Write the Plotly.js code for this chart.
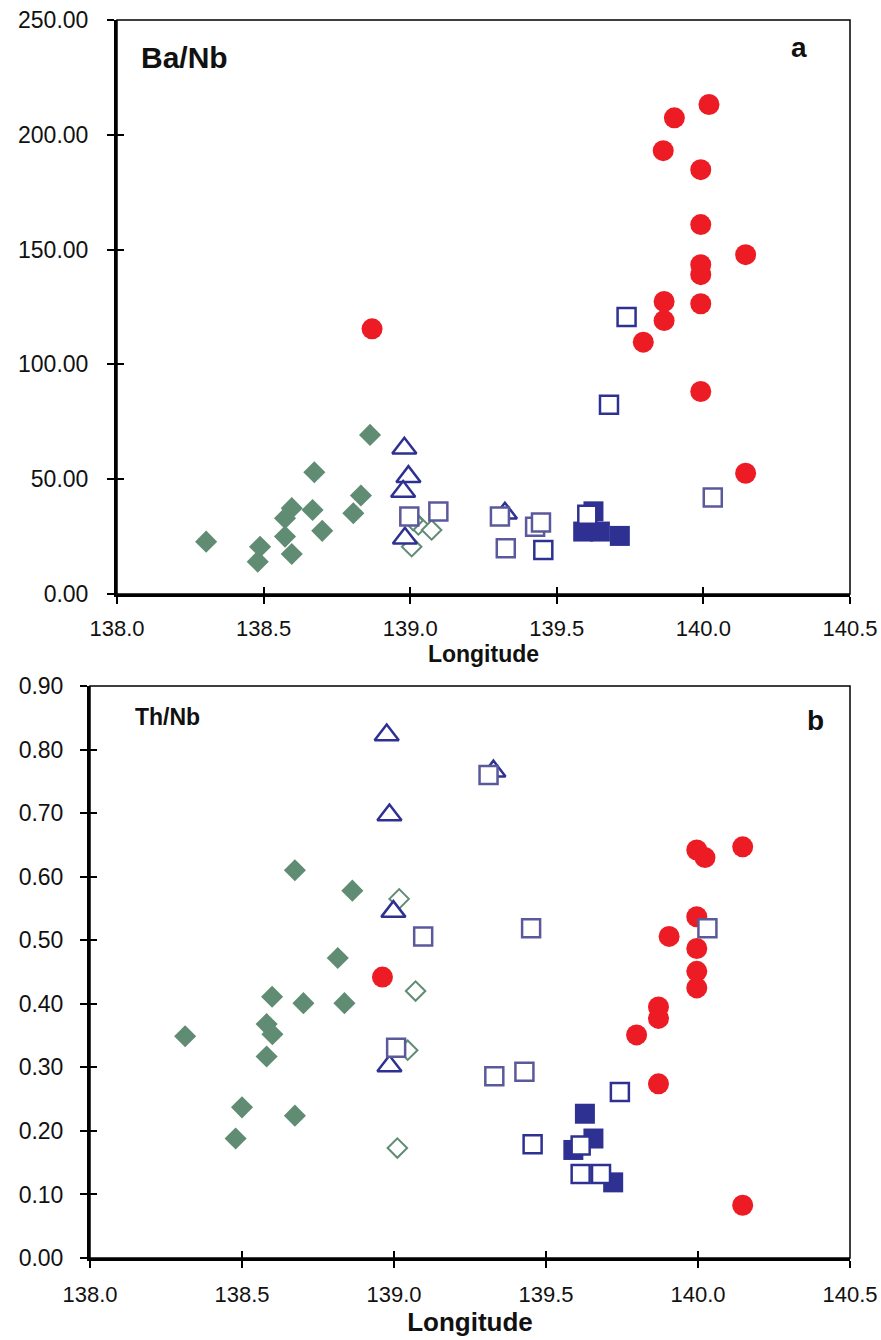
<!DOCTYPE html>
<html>
<head>
<meta charset="utf-8">
<script src="https://cdn.plot.ly/plotly-3.0.1.min.js"></script>
<style>
  html, body { margin: 0; padding: 0; background: #fff; }
  #chart { width: 881px; height: 1340px; }
</style>
</head>
<body>
<div id="chart"></div>
<script>
// ---- Panel a: Ba/Nb versus longitude ----
const redLonA = [140.019, 139.901, 139.863, 139.991, 139.991, 140.144, 139.991, 139.991, 139.866, 139.866, 139.991, 139.795, 139.991, 140.144, 138.870];
const redBaNb = [213.2, 207.4, 193.1, 184.8, 160.9, 147.8, 143.4, 139.1, 127.4, 119.1, 126.4, 109.7, 88.2, 52.6, 115.5];

const greenLonA = [138.863, 138.673, 138.304, 138.832, 138.806, 138.596, 138.667, 138.573, 138.573, 138.700, 138.488, 138.480, 138.596];
const greenBaNb = [69.3, 53.0, 22.8, 42.9, 35.2, 37.4, 36.6, 33.0, 25.0, 27.5, 20.6, 14.1, 17.4];

const openGreenLonA = [139.005, 139.028, 139.073, 139.010];
const openGreenBaNb = [20.6, 30.1, 27.9, 32.0];

const triLonA = [138.980, 138.994, 138.976, 138.982, 139.323];
const triBaNb = [63.5, 51.1, 44.6, 24.3, 35.2];

const purpleSqLonA = [138.997, 139.096, 139.306, 139.426, 139.446, 139.326, 140.032];
const purpleSqBaNb = [33.7, 35.9, 33.7, 29.3, 31.1, 19.9, 42.0];

const navySqLonA = [139.454, 139.604, 139.678, 139.738];
const navySqBaNb = [19.2, 34.5, 82.4, 120.6];

const navyFillLonA = [139.625, 139.590, 139.647, 139.715];
const navyFillBaNb = [36.0, 27.2, 27.2, 25.3];

// ---- Panel b: Th/Nb versus longitude ----
const redLonB = [138.962, 139.996, 140.023, 140.147, 139.996, 139.905, 139.996, 139.996, 139.996, 139.870, 139.870, 139.798, 139.870, 140.147];
const redThNb = [0.442, 0.642, 0.630, 0.647, 0.537, 0.506, 0.487, 0.451, 0.425, 0.395, 0.377, 0.351, 0.274, 0.083];

const greenLonB = [138.674, 138.863, 138.815, 138.599, 138.702, 138.837, 138.313, 138.581, 138.600, 138.581, 138.500, 138.674, 138.479];
const greenThNb = [0.610, 0.578, 0.472, 0.411, 0.401, 0.401, 0.349, 0.368, 0.352, 0.317, 0.237, 0.224, 0.188];

const openGreenLonB = [139.017, 139.071, 139.045, 139.011];
const openGreenThNb = [0.565, 0.420, 0.327, 0.173];

const triLonB = [138.976, 138.985, 138.998, 138.985, 139.327];
const triThNb = [0.823, 0.697, 0.545, 0.302, 0.766];

const purpleSqLonB = [139.311, 139.096, 139.007, 139.451, 140.031, 139.330, 139.429];
const purpleSqThNb = [0.760, 0.506, 0.331, 0.519, 0.519, 0.286, 0.293];

const navySqLonB = [139.743, 139.456, 139.614, 139.614, 139.681];
const navySqThNb = [0.261, 0.179, 0.177, 0.132, 0.132];

const navyFillLonB = [139.628, 139.656, 139.590, 139.721];
const navyFillThNb = [0.227, 0.188, 0.170, 0.119];

// Axis ticks
const lonTicks = [138.0, 138.5, 139.0, 139.5, 140.0, 140.5];
const baTicks = [0, 50, 100, 150, 200, 250];
const thTicks = [0, 0.1, 0.2, 0.3, 0.4, 0.5, 0.6, 0.7, 0.8, 0.9];

const RED = '#ED1C24', GREEN = '#5F8C73', NAVY = '#2E3192', PURPLE = '#5A599B';

function series(x, y, xa, ya, symbol, size, fill, line, lw) {
  return {
    type: 'scatter', mode: 'markers', x: x, y: y, xaxis: xa, yaxis: ya,
    hoverinfo: 'skip', showlegend: false,
    marker: { symbol: symbol, size: size, color: fill, line: { color: line, width: lw } }
  };
}

function panel(xa, ya, d) {
  return [
    series(d.gx, d.gy, xa, ya, 'diamond', 17, GREEN, GREEN, 0),
    series(d.ogx, d.ogy, xa, ya, 'diamond', 15, '#fff', GREEN, 2),
    series(d.rx, d.ry, xa, ya, 'circle', 21, RED, RED, 0),
    series(d.tx, d.ty, xa, ya, 'triangle-up', 21, '#fff', NAVY, 2.5),
    series(d.nfx, d.nfy, xa, ya, 'square', 20, NAVY, NAVY, 0),
    series(d.px, d.py, xa, ya, 'square', 18, '#fff', PURPLE, 2.5),
    series(d.nx, d.ny, xa, ya, 'square', 18, '#fff', NAVY, 2.5)
  ];
}

const traces = [].concat(
  panel('x', 'y', {
    gx: greenLonA, gy: greenBaNb, ogx: openGreenLonA, ogy: openGreenBaNb,
    rx: redLonA, ry: redBaNb, tx: triLonA, ty: triBaNb,
    nfx: navyFillLonA, nfy: navyFillBaNb, px: purpleSqLonA, py: purpleSqBaNb,
    nx: navySqLonA, ny: navySqBaNb
  }),
  panel('x2', 'y2', {
    gx: greenLonB, gy: greenThNb, ogx: openGreenLonB, ogy: openGreenThNb,
    rx: redLonB, ry: redThNb, tx: triLonB, ty: triThNb,
    nfx: navyFillLonB, nfy: navyFillThNb, px: purpleSqLonB, py: purpleSqThNb,
    nx: navySqLonB, ny: navySqThNb
  }),
  // empty traces that keep the inner tick overlays drawn
  [{ type: 'scatter', x: [], y: [], xaxis: 'x3', yaxis: 'y3', showlegend: false },
   { type: 'scatter', x: [], y: [], xaxis: 'x4', yaxis: 'y4', showlegend: false }]
);

const W = 881, H = 1340;
const fx = px => px / W;
const fy = py => 1 - py / H;

const ARIAL = '"Liberation Sans", Arial, sans-serif';

const domA = { x: [fx(117), fx(850)], y: [fy(594), fy(20)] };
const domB = { x: [fx(90), fx(850)], y: [fy(1258), fy(686)] };

function xAxis(dom, anchor, size, titleSize, standoff, titleStandoff) {
  return {
    domain: dom, anchor: anchor, range: [138, 140.5],
    tickvals: lonTicks, ticktext: lonTicks.map(v => v.toFixed(1)),
    ticks: 'outside', ticklen: 7, tickwidth: 2, tickcolor: '#000',
    showline: true, linewidth: 3, linecolor: '#000',
    showgrid: false, zeroline: false,
    tickfont: { family: ARIAL, size: size, color: '#111' },
    ticklabelstandoff: standoff,
    title: { text: '<b>Longitude</b>', font: { family: ARIAL, size: titleSize, color: '#111' }, standoff: titleStandoff }
  };
}
function yAxis(dom, anchor, range, vals, size, standoff) {
  return {
    domain: dom, anchor: anchor, range: range,
    tickvals: vals, ticktext: vals.map(v => v.toFixed(2)),
    ticks: 'outside', ticklen: 7, tickwidth: 2, tickcolor: '#000',
    showline: true, linewidth: 3, linecolor: '#000',
    showgrid: false, zeroline: false,
    tickfont: { family: ARIAL, size: size, color: '#111' },
    ticklabelstandoff: standoff
  };
}
function innerTicks(over, vals, range, anchor) {
  return {
    overlaying: over, anchor: anchor, range: range, tickvals: vals,
    ticks: 'inside', ticklen: 7, tickwidth: 2, tickcolor: '#000',
    showticklabels: false, showline: false, showgrid: false, zeroline: false
  };
}

const layout = {
  width: W, height: H,
  margin: { l: 0, r: 0, t: 0, b: 0 },
  paper_bgcolor: '#fff', plot_bgcolor: '#fff',
  showlegend: false,
  xaxis: xAxis(domA.x, 'y', 22, 23, 6, 4),
  yaxis: yAxis(domA.y, 'x', [0, 250], baTicks, 23, 14),
  xaxis2: xAxis(domB.x, 'y2', 22, 26, 8, 2),
  yaxis2: yAxis(domB.y, 'x2', [0, 0.9], thTicks, 23, 12),
  xaxis3: innerTicks('x', lonTicks, [138, 140.5], 'y'),
  yaxis3: innerTicks('y', baTicks, [0, 250], 'x'),
  xaxis4: innerTicks('x2', lonTicks, [138, 140.5], 'y2'),
  yaxis4: innerTicks('y2', thTicks, [0, 0.9], 'x2'),
  shapes: [
    { type: 'rect', xref: 'x domain', yref: 'y domain', x0: 0, x1: 1, y0: 0, y1: 1,
      line: { color: '#000', width: 1.5 }, layer: 'below' },
    { type: 'rect', xref: 'x2 domain', yref: 'y2 domain', x0: 0, x1: 1, y0: 0, y1: 1,
      line: { color: '#000', width: 1.5 }, layer: 'below' }
  ],
  annotations: [
    { text: '<b>Ba/Nb</b>', xref: 'x domain', yref: 'y domain', x: 0.03, y: 0.935,
      xanchor: 'left', yanchor: 'middle', showarrow: false,
      font: { family: ARIAL, size: 30, color: '#111' } },
    { text: '<b>a</b>', xref: 'x domain', yref: 'y domain', x: 0.93, y: 0.952,
      xanchor: 'center', yanchor: 'middle', showarrow: false,
      font: { family: ARIAL, size: 28, color: '#111' } },
    { text: '<b>Th/Nb</b>', xref: 'x2 domain', yref: 'y2 domain', x: 0.057, y: 0.946,
      xanchor: 'left', yanchor: 'middle', showarrow: false,
      font: { family: ARIAL, size: 23, color: '#111' } },
    { text: '<b>b</b>', xref: 'x2 domain', yref: 'y2 domain', x: 0.955, y: 0.94,
      xanchor: 'center', yanchor: 'middle', showarrow: false,
      font: { family: ARIAL, size: 28, color: '#111' } }
  ]
};

Plotly.newPlot('chart', traces, layout, { staticPlot: true, displayModeBar: false });
</script>
</body>
</html>
